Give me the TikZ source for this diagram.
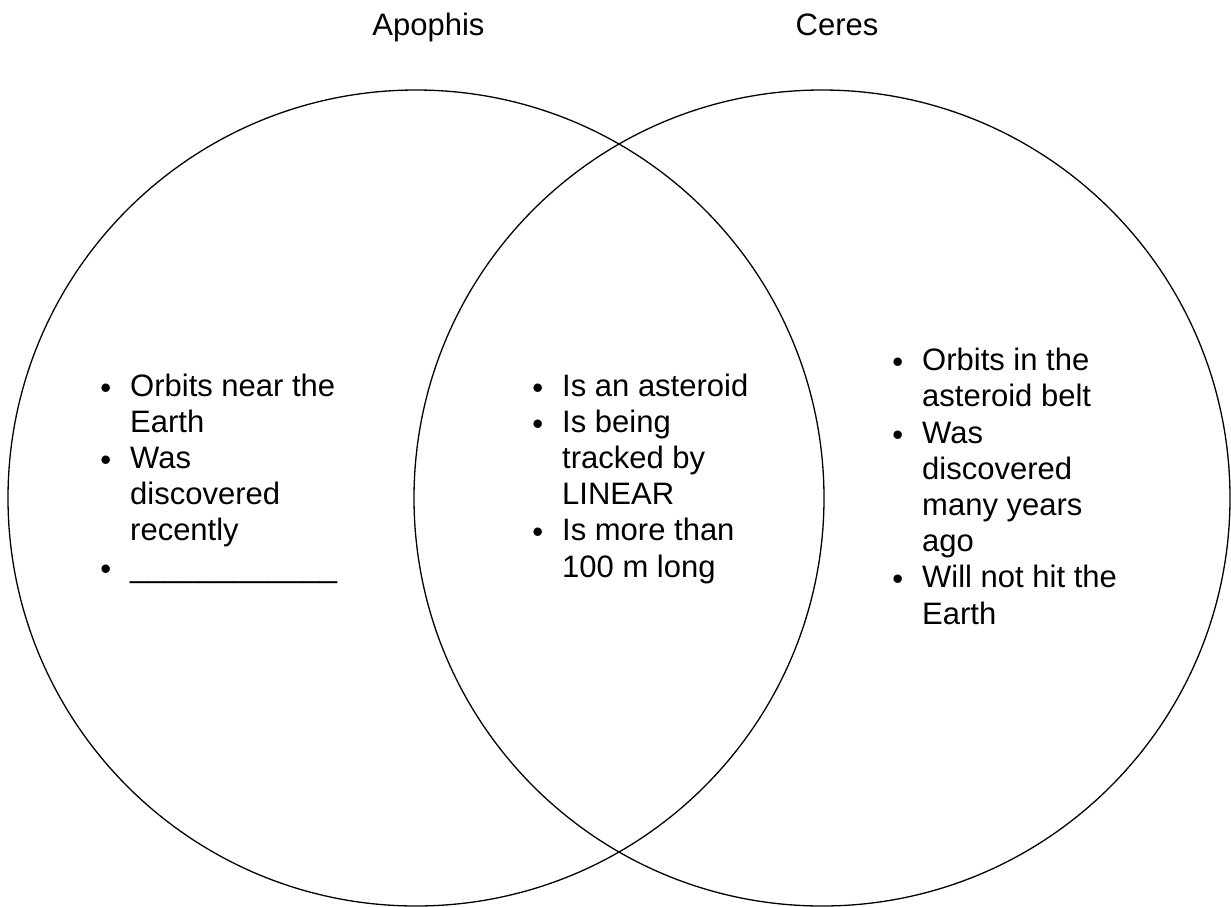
\documentclass[tikz,border=0pt]{standalone}
\usepackage{fontspec}
\setmainfont{Liberation Sans}
\usepackage{tikz}

\newcommand{\blt}{\llap{\raisebox{-2pt}{\textbullet}\hspace{19pt}}}

\begin{document}
\begin{tikzpicture}[x=1pt,y=-1pt,
    set/.style={circle, draw, line width=1.3pt, minimum size=816pt, inner sep=0pt},
    title/.style={anchor=base, inner sep=0pt, font=\fontsize{31}{36.2}\selectfont},
    items/.style={anchor=base west, align=left, inner sep=0pt, font=\fontsize{31}{36.2}\selectfont}]

    \useasboundingbox (0,0) rectangle (1231,906);

    \node[set] (apophisset) at (416,498) {};
    \node[set] (ceresset) at (822,498) {};

    \node[title] (apophis) at (428.5,35) {Apophis};
    \node[title] (ceres) at (837,35) {Ceres};

    \node[items] (apophisitems) at (130,577) {\blt Orbits near the\\ Earth\\ \blt Was\\ discovered\\ recently\\ \blt \_\_\_\_\_\_\_\_\_\_\_\_};

    \node[items] (bothitems) at (562,577) {\blt Is an asteroid\\ \blt Is being\\ tracked by\\ LINEAR\\ \blt Is more than\\ 100 m long};

    \node[items] (ceresitems) at (922,624) {\blt Orbits in the\\ asteroid belt\\ \blt Was\\ discovered\\ many years\\ ago\\ \blt Will not hit the\\ Earth};

\end{tikzpicture}
\end{document}
